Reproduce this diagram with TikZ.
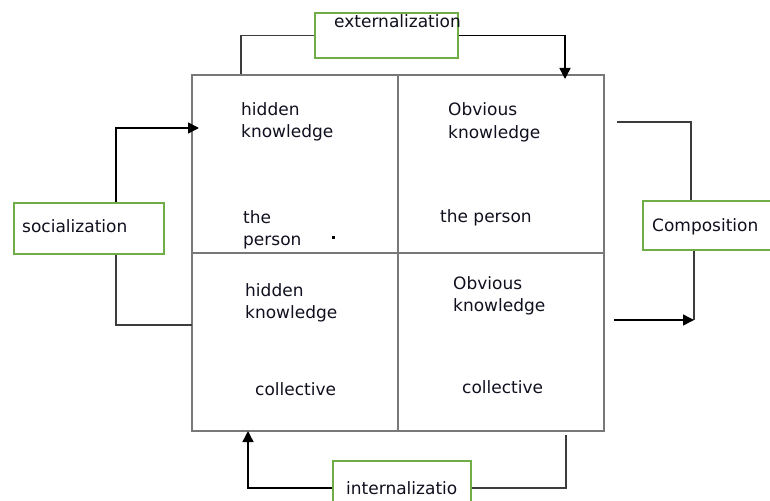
\documentclass[tikz,border=0pt]{standalone}
\usepackage{fontspec}
\setmainfont{DejaVu Sans}
\usetikzlibrary{arrows.meta}
\definecolor{boxgreen}{RGB}{112,173,71}
\definecolor{gridgray}{RGB}{120,120,120}
\definecolor{linegray}{RGB}{60,60,60}
\definecolor{txt}{RGB}{15,15,30}
\begin{document}
\begin{tikzpicture}[x=1pt,y=-1pt,
  lbl/.style={anchor=base west,inner sep=0pt,text=txt,font=\fontsize{17}{20}\selectfont},
  cell/.style={draw=gridgray,line width=1.8pt,inner sep=0pt,anchor=north west,minimum width=206pt,minimum height=178pt},
  gbox/.style={draw=boxgreen,line width=1.7pt,fill=white,inner sep=0pt,anchor=north west},
  conn/.style={draw=linegray,line width=1.3pt},
  arr/.style={draw=black,line width=1.4pt,-{Triangle[length=11pt,width=11pt]}}]
\useasboundingbox (0,0) rectangle (770,500);
% grid of four cells
\node[cell] (c11) at (191,74) {};
\node[cell] (c12) at (397,74) {};
\node[cell] (c21) at (191,252) {};
\node[cell] (c22) at (397,252) {};
% green boxes
\node[gbox,minimum width=143pt,minimum height=45pt] (ext) at (314,12) {};
\node[gbox,minimum width=150pt,minimum height=51pt] (soc) at (13,202) {};
\node[gbox,minimum width=150pt,minimum height=49pt] (comp) at (642,200) {};
\node[gbox,minimum width=138pt,minimum height=54pt] (intl) at (332,460) {};
% box texts
\node[lbl] (extt) at (334,28) {externalization};
\node[lbl] (soct) at (22,232) {socialization};
\node[lbl] (compt) at (652,231) {Composition};
\node[lbl] (intlt) at (346,494) {internalizatio};
% cell texts
\node[lbl] (t1a) at (241,115) {hidden};
\node[lbl] (t1b) at (241,137) {knowledge};
\node[lbl] (t2a) at (448,116) {Obvious};
\node[lbl] (t2b) at (448,138) {knowledge};
\node[lbl] (t3a) at (243,223) {the};
\node[lbl] (t3b) at (243,245) {person};
\node[lbl] (t4) at (440,222) {the person};
\node[lbl] (t5a) at (245,296) {hidden};
\node[lbl] (t5b) at (245,318) {knowledge};
\node[lbl] (t6a) at (453,289) {Obvious};
\node[lbl] (t6b) at (453,311) {knowledge};
\node[lbl] (t7) at (255,395) {collective};
\node[lbl] (t8) at (462,393) {collective};
\node[fill=black,inner sep=0pt,minimum size=3pt] (dot) at (333,237) {};
% connector anchor coordinates
\coordinate (ea) at (241,74);
\coordinate (eb) at (565,79);
\coordinate (sx) at (116,0);
\coordinate (sa) at (199,128);
\coordinate (sb) at (192,325);
\coordinate (ca) at (617,122);
\coordinate (cx) at (691,0);
\coordinate (cb) at (614,320);
\coordinate (cc) at (694,320);
\coordinate (ia) at (248,431);
\coordinate (ib) at (566,435);
% externalization
\draw[conn] (ext.west) -| (ea);
\draw[arr] (ext.east) -| (eb);
% socialization
\draw[arr] (soc.north -| sx) |- (sa);
\draw[conn] (soc.south -| sx) |- (sb);
% composition
\draw[conn] (ca) -| (comp.north -| cx);
\draw[conn] (comp.south -| cc) -- (cc);
\draw[arr] (cb) -- (cc);
% internalization
\draw[arr] (intl.west) -| (ia);
\draw[conn] (intl.east) -| (ib);
\end{tikzpicture}
\end{document}
